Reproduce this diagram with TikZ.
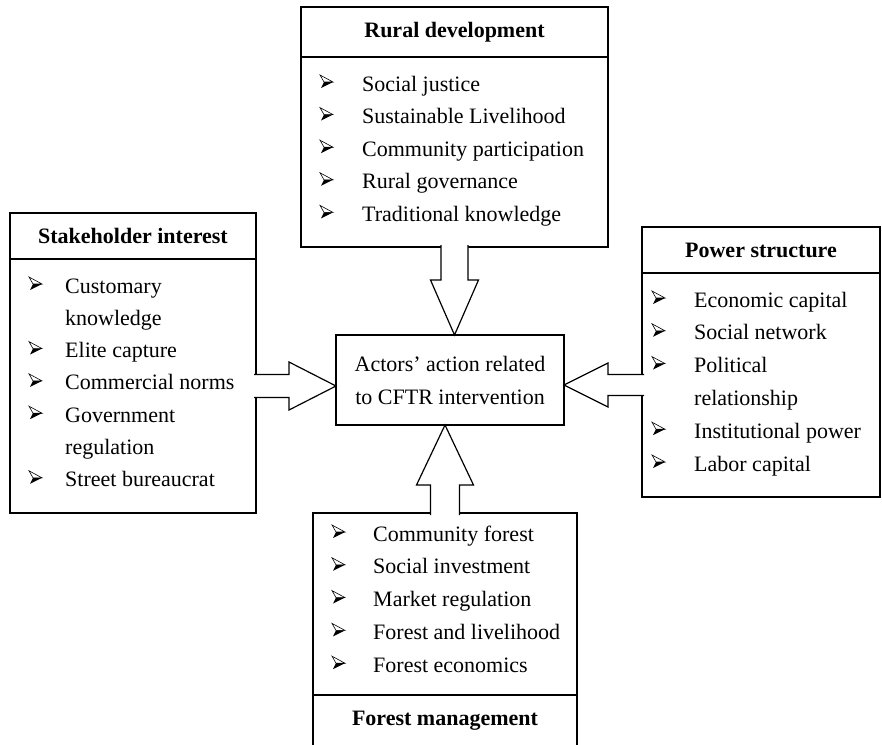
\documentclass[tikz,border=0pt]{standalone}
\usepackage{fontspec}
\setmainfont{Liberation Serif}
\usetikzlibrary{positioning, calc}

\begin{document}
\begin{tikzpicture}[x=1pt, y=-1pt, font=\fontsize{22}{26}\selectfont,
  head/.style={draw,line width=1.2pt,inner sep=0pt,outer sep=0pt,font=\fontsize{22}{26}\selectfont\bfseries},
  body/.style={draw,line width=1.2pt,inner sep=0pt,outer sep=0pt},
  item/.style={anchor=base west,inner sep=0pt},
  blk/.style={draw,line width=1.2pt,fill=white},
  pics/bulletmark/.style={code={
    \draw[line width=0.6pt,line join=miter] (0,0) -- (13,7) -- (4,7) -- cycle;
    \fill (4,7) -- (13,7) -- (1,13) -- cycle;}}]
  \useasboundingbox (0,0) rectangle (882,744);

  % centre box
  \node[body,minimum width=228pt,minimum height=90pt,align=center,
    font=\fontsize{22}{33}\selectfont] (act) at (450,380) {Actors’ action related\\to CFTR intervention};

  % rural development (top)
  \node[head,minimum width=307pt,minimum height=50pt] (rdh) at (454.5,32) {Rural development};
  \node[body,minimum width=307pt,minimum height=190pt,below=0pt of rdh] (rdb) {};
  \foreach \t [count=\i from 0] in {Social justice,Sustainable Livelihood,Community participation,Rural governance,Traditional knowledge} {
    \pic (rd-m\i) at ($(rdb.north west)+(19,18+32.6*\i)$) {bulletmark};
    \node[item] (rd-t\i) at ($(rdb.north west)+(61,34+32.6*\i)$) {\t};
  }

  % stakeholder interest (left)
  \node[head,minimum width=246pt,minimum height=46pt] (sih) at (133,236) {Stakeholder interest};
  \node[body,minimum width=246pt,minimum height=254pt,below=0pt of sih] (sib) {};
  \foreach \b/\t [count=\i from 0] in {1/Customary,0/knowledge,1/Elite capture,1/Commercial norms,1/Government,0/regulation,1/Street bureaucrat} {
    \ifnum\b=1 \pic (si-m\i) at ($(sib.north west)+(19,18+32.3*\i)$) {bulletmark}; \fi
    \node[item] (si-t\i) at ($(sib.north west)+(55,34+32.3*\i)$) {\t};
  }

  % power structure (right)
  \node[head,minimum width=238pt,minimum height=46pt] (psh) at (761,250) {Power structure};
  \node[body,minimum width=238pt,minimum height=224pt,below=0pt of psh] (psb) {};
  \foreach \b/\t [count=\i from 0] in {1/Economic capital,1/Social network,1/Political,0/relationship,1/Institutional power,1/Labor capital} {
    \ifnum\b=1 \pic (ps-m\i) at ($(psb.north west)+(10,18+32.8*\i)$) {bulletmark}; \fi
    \node[item] (ps-t\i) at ($(psb.north west)+(52,34+32.8*\i)$) {\t};
  }

  % forest management (bottom)
  \node[body,minimum width=264pt,minimum height=182pt] (fmb) at (445,604) {};
  \node[head,minimum width=264pt,minimum height=52pt,below=0pt of fmb] (fmh) {Forest management};
  \foreach \t [count=\i from 0] in {Community forest,Social investment,Market regulation,Forest and livelihood,Forest economics} {
    \pic (fm-m\i) at ($(fmb.north west)+(19,12+32.8*\i)$) {bulletmark};
    \node[item] (fm-t\i) at ($(fmb.north west)+(60,28+32.8*\i)$) {\t};
  }

  % block arrows into the centre box
  \coordinate (t1) at (rdb.south |- act.north);
  \coordinate (t2) at (act.west |- sib.east);
  \coordinate (t3) at (act.east |- psb.west);
  \coordinate (t4) at (fmb.north |- act.south);
  \draw[blk] ($(rdb.south)+(-13.5,-2)$) -- ($(t1)+(-13.5,-55)$) -- ($(t1)+(-24,-55)$) -- (t1)
    -- ($(t1)+(24,-55)$) -- ($(t1)+(13.5,-55)$) -- ($(rdb.south)+(13.5,-2)$);
  \draw[blk] ($(sib.east)+(-2,-11.5)$) -- ($(t2)+(-47,-11.5)$) -- ($(t2)+(-47,-24)$) -- (t2)
    -- ($(t2)+(-47,24)$) -- ($(t2)+(-47,11.5)$) -- ($(sib.east)+(-2,11.5)$);
  \draw[blk] ($(psb.west)+(2,-10.5)$) -- ($(t3)+(44,-10.5)$) -- ($(t3)+(44,-22)$) -- (t3)
    -- ($(t3)+(44,22)$) -- ($(t3)+(44,10.5)$) -- ($(psb.west)+(2,10.5)$);
  \draw[blk] ($(fmb.north)+(-14.5,2)$) -- ($(t4)+(-14.5,60)$) -- ($(t4)+(-28.5,60)$) -- (t4)
    -- ($(t4)+(28.5,60)$) -- ($(t4)+(14.5,60)$) -- ($(fmb.north)+(14.5,2)$);
\end{tikzpicture}
\end{document}
